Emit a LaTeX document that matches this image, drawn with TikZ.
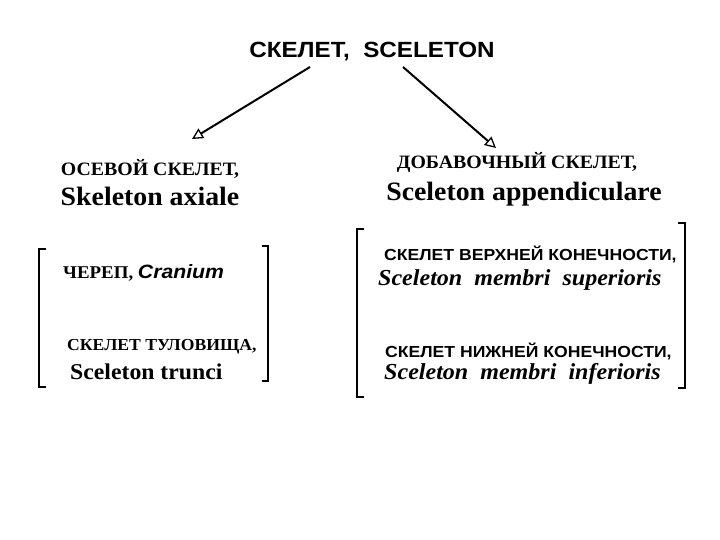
\documentclass[tikz,border=0pt]{standalone}
\usepackage{fontspec}
\setmainfont[FakeStretch=1.05]{Liberation Serif}
\setsansfont[FakeStretch=1.1]{Liberation Sans}
\usetikzlibrary{arrows.meta,positioning}

\begin{document}
\begin{tikzpicture}[
    x=1pt, y=-1pt,
    ttl/.style={font=\sffamily\bfseries\fontsize{22}{24}\selectfont, inner sep=0pt},
    rus/.style={font=\rmfamily\bfseries\fontsize{18.9}{20}\selectfont, inner sep=0pt},
    lat/.style={font=\rmfamily\bfseries\fontsize{26.5}{28}\selectfont, inner sep=0pt},
    part/.style={font=\sffamily\bfseries\fontsize{16}{18}\selectfont, inner sep=0pt},
    partlat/.style={font=\rmfamily\bfseries\itshape\fontsize{22.9}{24}\selectfont, inner sep=0pt},
    link/.style={line width=2pt, -{Triangle[open, length=11pt, width=11pt, line width=1.3pt]}},
    brk/.style={line width=2.8pt}
]
    \useasboundingbox (0,0) rectangle (720,540);

    % Title
    \node[ttl] (skel) at (372,52) {СКЕЛЕТ,\ \ SCELETON};
    \coordinate (axtip) at (192,139);
    \coordinate (aptip) at (496,148);
    \draw[link] (310,67) -- (axtip);
    \draw[link] (403,67) -- (aptip);

    % Axial skeleton
    \node[rus] (axru) at (150,169) {ОСЕВОЙ СКЕЛЕТ,};
    \node[lat, below=8pt of axru] (axla) {Skeleton axiale};
    \node[anchor=west, inner sep=0pt] (cran) at (63,273)
        {\rmfamily\bfseries\fontsize{18}{20}\selectfont ЧЕРЕП,
         \sffamily\bfseries\itshape\fontsize{19.3}{21}\selectfont Cranium};
    \node[rus, anchor=west, font=\rmfamily\bfseries\fontsize{16.8}{18}\selectfont] (trru) at (67,347) {СКЕЛЕТ ТУЛОВИЩА,};
    \node[lat, anchor=west, font=\rmfamily\bfseries\fontsize{22.6}{24}\selectfont] (trla) at (70,372) {Sceleton trunci};

    % Appendicular skeleton
    \node[rus] (apru) at (517,162) {ДОБАВОЧНЫЙ СКЕЛЕТ,};
    \node[lat, below=10pt of apru, xshift=7pt] (apla) {Sceleton appendiculare};
    \node[part, anchor=west] (upru) at (384,254) {СКЕЛЕТ ВЕРХНЕЙ КОНЕЧНОСТИ,};
    \node[partlat, anchor=west] (upla) at (378,280) {Sceleton\ \ membri\ \ superioris};
    \node[part, anchor=west] (loru) at (385,351) {СКЕЛЕТ НИЖНЕЙ КОНЕЧНОСТИ,};
    \node[partlat, anchor=west] (lola) at (384,374) {Sceleton\ \ membri\ \ inferioris};

    % Brackets
    \draw[brk] (46,249) -- (39,249) -- (39,387) -- (46,387);
    \draw[brk] (262,246) -- (268,246) -- (268,381) -- (262,381);
    \draw[brk] (364,229) -- (357,229) -- (357,397) -- (364,397);
    \draw[brk] (678,223) -- (685,223) -- (685,388) -- (678,388);
\end{tikzpicture}
\end{document}
